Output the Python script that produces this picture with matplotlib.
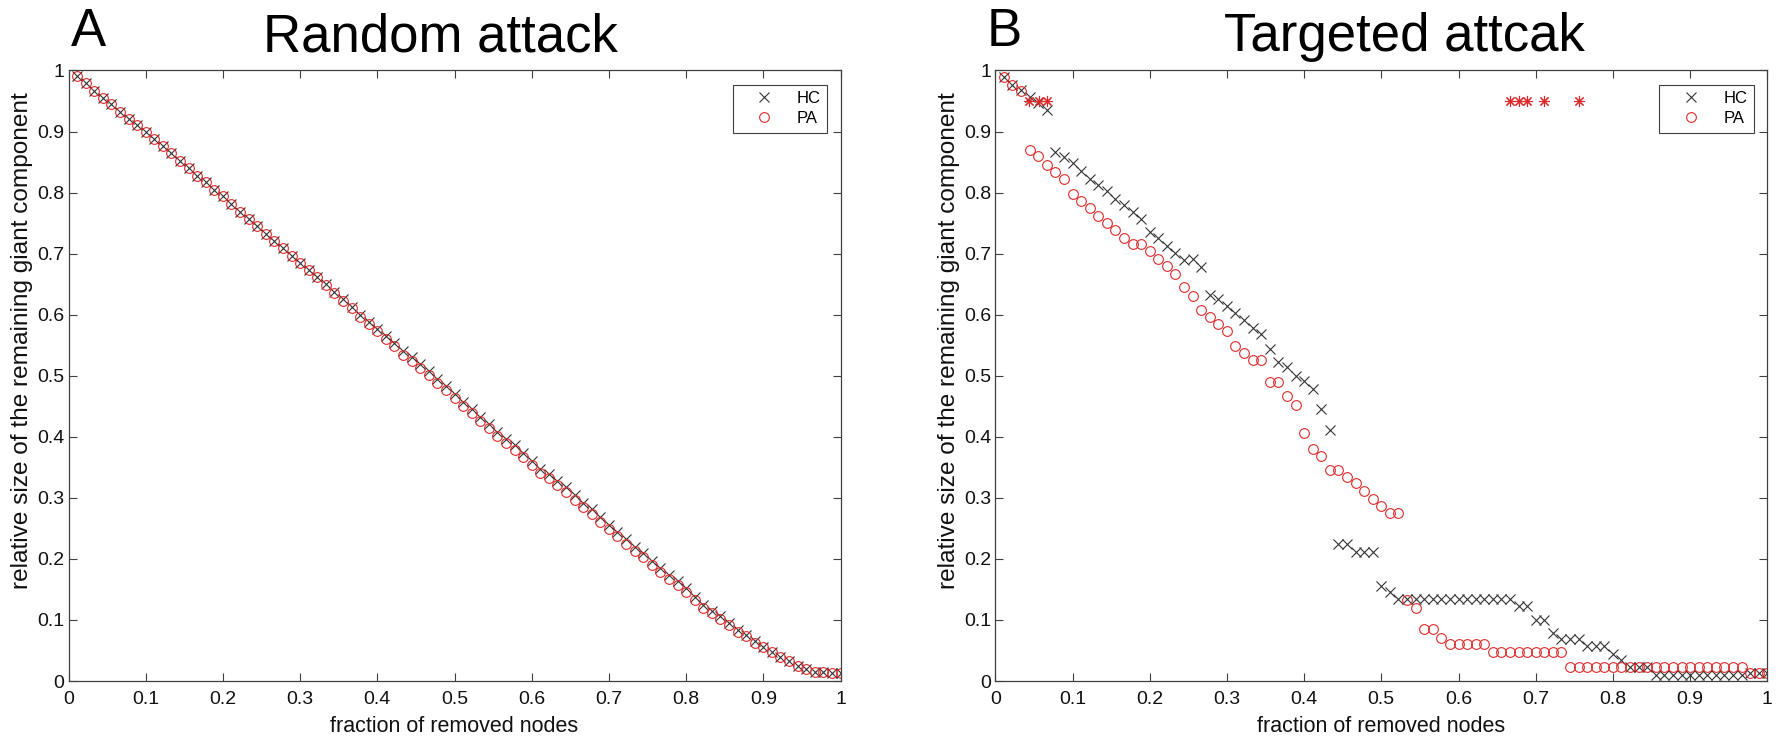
import matplotlib
matplotlib.use("Agg")
import matplotlib.pyplot as plt
import numpy as np

plt.rcParams["font.family"] = ["Liberation Sans", "DejaVu Sans"]

# one node in 90 removed per step
N_STEPS = 90
FRACTION = np.arange(1, N_STEPS + 1) / N_STEPS

# panel A: random attack
RANDOM_HC = [
    0.991, 0.979, 0.966, 0.955, 0.945, 0.932, 0.921, 0.910, 0.899, 0.887,
    0.876, 0.865, 0.852, 0.840, 0.828, 0.817, 0.805, 0.794, 0.782, 0.769,
    0.757, 0.745, 0.733, 0.720, 0.709, 0.696, 0.685, 0.673, 0.661, 0.650,
    0.638, 0.625, 0.613, 0.600, 0.588, 0.577, 0.565, 0.553, 0.540, 0.530,
    0.519, 0.508, 0.495, 0.483, 0.470, 0.457, 0.446, 0.433, 0.421, 0.408,
    0.397, 0.386, 0.374, 0.361, 0.348, 0.339, 0.328, 0.317, 0.304, 0.292,
    0.281, 0.268, 0.256, 0.244, 0.232, 0.220, 0.210, 0.197, 0.185, 0.174,
    0.164, 0.152, 0.138, 0.125, 0.115, 0.106, 0.095, 0.084, 0.075, 0.065,
    0.056, 0.048, 0.040, 0.032, 0.025, 0.019, 0.015, 0.014, 0.013, 0.013,
]
RANDOM_PA = [
    0.991, 0.979, 0.966, 0.955, 0.945, 0.932, 0.921, 0.910, 0.899, 0.887,
    0.876, 0.865, 0.852, 0.840, 0.828, 0.817, 0.805, 0.794, 0.782, 0.769,
    0.757, 0.745, 0.733, 0.720, 0.709, 0.696, 0.685, 0.673, 0.661, 0.649,
    0.636, 0.623, 0.611, 0.597, 0.584, 0.573, 0.560, 0.548, 0.534, 0.524,
    0.513, 0.502, 0.488, 0.476, 0.463, 0.450, 0.439, 0.426, 0.414, 0.401,
    0.390, 0.379, 0.367, 0.354, 0.341, 0.332, 0.321, 0.310, 0.297, 0.285,
    0.274, 0.261, 0.249, 0.237, 0.225, 0.213, 0.203, 0.190, 0.178, 0.167,
    0.157, 0.146, 0.133, 0.120, 0.111, 0.102, 0.092, 0.081, 0.073, 0.063,
    0.055, 0.047, 0.039, 0.032, 0.025, 0.019, 0.015, 0.014, 0.013, 0.013,
]

# panel B: targeted attack
TARGET_HC = [
    0.990, 0.977, 0.968, 0.957, 0.947, 0.935, 0.867, 0.858, 0.848, 0.835,
    0.823, 0.813, 0.802, 0.790, 0.779, 0.768, 0.757, 0.736, 0.725, 0.712,
    0.701, 0.689, 0.691, 0.678, 0.633, 0.625, 0.614, 0.602, 0.591, 0.579,
    0.568, 0.544, 0.523, 0.514, 0.500, 0.491, 0.479, 0.445, 0.411, 0.224,
    0.224, 0.211, 0.211, 0.211, 0.156, 0.145, 0.134, 0.134, 0.134, 0.134,
    0.134, 0.134, 0.134, 0.134, 0.134, 0.134, 0.134, 0.134, 0.134, 0.134,
    0.123, 0.123, 0.100, 0.100, 0.078, 0.068, 0.068, 0.068, 0.057, 0.057,
    0.057, 0.045, 0.034, 0.023, 0.023, 0.023, 0.010, 0.010, 0.010, 0.010,
    0.010, 0.010, 0.010, 0.010, 0.010, 0.010, 0.010, 0.0125, 0.0125, 0.0125,
]
TARGET_PA = [
    0.990, 0.977, 0.966, 0.870, 0.860, 0.845, 0.833, 0.822, 0.798, 0.787,
    0.775, 0.762, 0.750, 0.738, 0.726, 0.715, 0.716, 0.704, 0.691, 0.679,
    0.667, 0.645, 0.631, 0.607, 0.596, 0.585, 0.573, 0.549, 0.537, 0.525,
    0.525, 0.489, 0.489, 0.467, 0.452, 0.406, 0.380, 0.369, 0.346, 0.346,
    0.334, 0.324, 0.311, 0.298, 0.287, 0.275, 0.275, 0.133, 0.119, 0.085,
    0.085, 0.071, 0.060, 0.060, 0.060, 0.060, 0.060, 0.048, 0.048, 0.048,
    0.048, 0.048, 0.048, 0.048, 0.048, 0.048, 0.0235, 0.0235, 0.0235, 0.0235,
    0.0235, 0.0235, 0.0235, 0.0235, 0.0235, 0.0235, 0.0235, 0.0235, 0.0235, 0.0235,
    0.0235, 0.0235, 0.0235, 0.0235, 0.0235, 0.0235, 0.0235, 0.0125, 0.0125, 0.0125,
]
# stray asterisk markers in panel B
STAR_X = [0.044, 0.056, 0.067, 0.667, 0.678, 0.689, 0.711, 0.756]
STAR_Y = [0.95, 0.95, 0.95, 0.95, 0.95, 0.95, 0.95, 0.95]

TICKS = [0, 0.1, 0.2, 0.3, 0.4, 0.5, 0.6, 0.7, 0.8, 0.9, 1]
TICK_LABELS = ["0", "0.1", "0.2", "0.3", "0.4", "0.5", "0.6", "0.7", "0.8", "0.9", "1"]

HC_COLOR = "#333333"
PA_COLOR = "#dc2a2a"
AXIS_COLOR = "#404040"

W, H = 1784, 742


def _style_axes(ax):
    ax.set_xlim(0, 1)
    ax.set_ylim(0, 1)
    ax.set_xticks(TICKS)
    ax.set_yticks(TICKS)
    ax.set_xticklabels(TICK_LABELS)
    ax.set_yticklabels(TICK_LABELS)
    ax.tick_params(direction="in", top=True, right=True, length=5.5, width=0.8,
                   color=AXIS_COLOR, labelsize=14, labelcolor="#111111")
    ax.tick_params(axis="x", pad=7)
    ax.tick_params(axis="y", pad=3)
    for sp in ax.spines.values():
        sp.set_color(AXIS_COLOR)
        sp.set_linewidth(0.9)
    ax.set_xlabel("fraction of removed nodes", fontsize=15.5, color="#111111")
    ax.set_ylabel("relative size of the remaining giant component", fontsize=17.6,
                  color="#111111")
    ax.xaxis.set_label_coords(0.5, -0.058)
    ax.yaxis.set_label_coords(-0.046, 0.557)


def _draw_panel(ax, hc, pa):
    ax.plot(FRACTION, hc, linestyle="none", marker="x", ms=7, mew=0.8,
            color=HC_COLOR, label="HC")
    ax.plot(FRACTION, pa, linestyle="none", marker="o", ms=7, mew=0.8,
            mfc="none", mec=PA_COLOR, label="PA")
    _style_axes(ax)
    leg = ax.legend(loc="upper right", bbox_to_anchor=(0.983, 0.977),
                    borderaxespad=0, fontsize=12, fancybox=False,
                    handlelength=3.0, handletextpad=0.45, labelspacing=0.3,
                    borderpad=0.4, framealpha=1)
    leg.get_frame().set_edgecolor(AXIS_COLOR)
    leg.get_frame().set_linewidth(0.8)


def main():
    fig = plt.figure(figsize=(W / 100, H / 100), dpi=100)
    bottom = (H - 681) / H
    height = 610.5 / H
    width = 772 / W
    ax_a = fig.add_axes([68.5 / W, bottom, width, height])
    ax_b = fig.add_axes([995.3 / W, bottom, width, height])

    _draw_panel(ax_a, RANDOM_HC, RANDOM_PA)
    _draw_panel(ax_b, TARGET_HC, TARGET_PA)
    ax_b.plot(STAR_X, STAR_Y, linestyle="none", marker=(8, 2, 0), ms=8, mew=0.8,
              color=PA_COLOR)

    # panel letters and titles
    fig.text(71 / W, 1 - 46 / H, "A", fontsize=38, ha="left", va="baseline")
    fig.text(440 / W, 1 - 51 / H, "Random attack", fontsize=38, ha="center", va="baseline")
    fig.text(987 / W, 1 - 46 / H, "B", fontsize=38, ha="left", va="baseline")
    fig.text(1404 / W, 1 - 51 / H, "Targeted attcak", fontsize=38, ha="center", va="baseline")

    fig.savefig("out.png", dpi=100)
    plt.close(fig)


if __name__ == "__main__":
    main()
